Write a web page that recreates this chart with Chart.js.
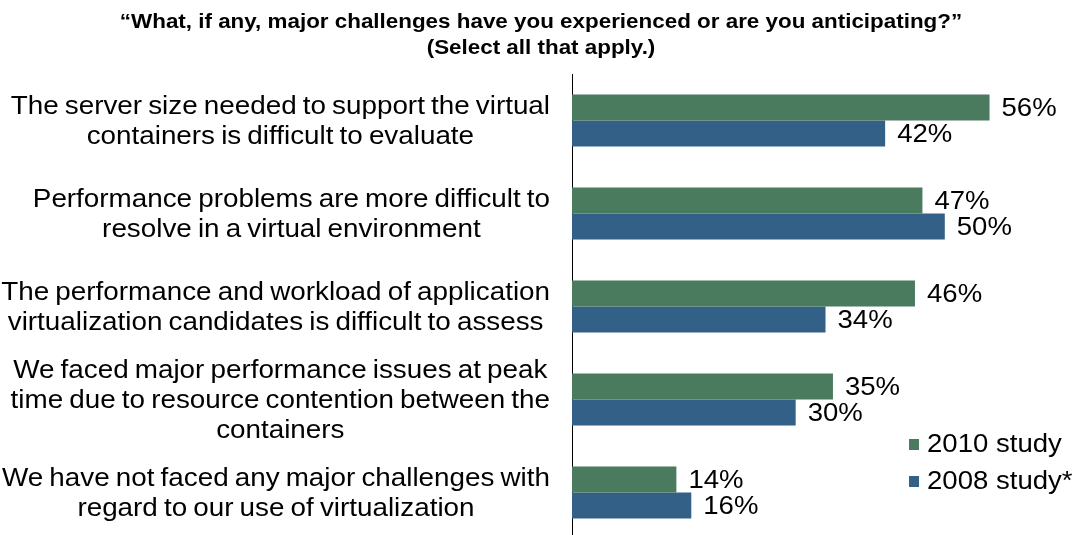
<!DOCTYPE html>
<html>
<head>
<meta charset="utf-8">
<script src="https://cdn.jsdelivr.net/npm/chart.js@4.4.1/dist/chart.umd.min.js"></script>
<style>
  html, body { margin: 0; padding: 0; background: #fff; overflow: hidden; }
</style>
</head>
<body>
<canvas id="chart" width="1079" height="540"></canvas>
<script>
// survey answers, one entry per bar group (each line of a label is its own string)
const categories = [
  ['The server size needed to support the virtual', 'containers is difficult to evaluate'],
  ['Performance problems are more difficult to', 'resolve in a virtual environment'],
  ['The performance and workload of application', 'virtualization candidates is difficult to assess'],
  ['We faced major performance issues at peak', 'time due to resource contention between the', 'containers'],
  ['We have not faced any major challenges with', 'regard to our use of virtualization']
];
const study2010 = [56, 47, 46, 35, 14];
const study2008 = [42, 50, 34, 30, 16];
const seriesNames = ['2010 study', '2008 study*'];
const titleLines = [
  '\u201cWhat, if any, major challenges have you experienced or are you anticipating?\u201d',
  '(Select all that apply.)'
];

const GREEN = '#4a7b5f';
const BLUE = '#336087';
const FONT = '"Liberation Sans", Arial, sans-serif';
const TEXT_FONT = '26px ' + FONT;
const TEXT_STRETCH = 1.06;
const LABEL_STRETCH = 1.07;

// text drawn slightly widened, like the original slide export
function wideText(ctx, text, x, y, sx) {
  ctx.save();
  ctx.translate(x, y);
  ctx.scale(sx, 1);
  ctx.fillText(text, 0, 0);
  ctx.restore();
}

const titleBlock = {
  id: 'titleBlock',
  afterDraw(chart) {
    const ctx = chart.ctx;
    ctx.save();
    ctx.font = 'bold 20px ' + FONT;
    ctx.fillStyle = '#000';
    ctx.textAlign = 'center';
    ctx.textBaseline = 'middle';
    titleLines.forEach((line, i) => wideText(ctx, line, 541, 22 + i * 26, 1.12));
    ctx.restore();
  }
};

// multi-line category text, each block centred on itself and right-aligned to the axis
const categoryLabels = {
  id: 'categoryLabels',
  afterDraw(chart) {
    const ctx = chart.ctx;
    const yScale = chart.scales.y;
    const right = chart.chartArea.left - 22;
    ctx.save();
    ctx.font = TEXT_FONT;
    ctx.wordSpacing = '-1.5px';
    ctx.fillStyle = '#000';
    ctx.textAlign = 'center';
    ctx.textBaseline = 'middle';
    chart.data.labels.forEach((lines, i) => {
      const widest = Math.max(...lines.map(l => ctx.measureText(l).width)) * LABEL_STRETCH;
      const cx = right - widest / 2;
      const cy = yScale.getPixelForTick(i);
      lines.forEach((line, j) => {
        wideText(ctx, line, cx, cy + 1 + (j - (lines.length - 1) / 2) * 30, LABEL_STRETCH);
      });
    });
    ctx.restore();
  }
};

// percentage printed just past the end of each bar
const valueLabels = {
  id: 'valueLabels',
  afterDatasetsDraw(chart) {
    const ctx = chart.ctx;
    ctx.save();
    ctx.font = TEXT_FONT;
    ctx.fillStyle = '#000';
    ctx.textAlign = 'left';
    ctx.textBaseline = 'middle';
    chart.data.datasets.forEach((ds, d) => {
      chart.getDatasetMeta(d).data.forEach((bar, i) => {
        wideText(ctx, ds.data[i] + '%', bar.x + 12, bar.y + 1, TEXT_STRETCH);
      });
    });
    ctx.restore();
  }
};

// small square legend in the lower right
const cornerLegend = {
  id: 'cornerLegend',
  afterDraw(chart) {
    const ctx = chart.ctx;
    ctx.save();
    ctx.font = TEXT_FONT;
    ctx.textAlign = 'left';
    ctx.textBaseline = 'middle';
    chart.data.datasets.forEach((ds, d) => {
      const y = 444 + d * 37;
      ctx.fillStyle = ds.backgroundColor;
      ctx.fillRect(909, y - 5, 10, 11);
      ctx.fillStyle = '#000';
      wideText(ctx, ds.label, 927, y + 1, TEXT_STRETCH);
    });
    ctx.restore();
  }
};

new Chart(document.getElementById('chart'), {
  type: 'bar',
  data: {
    labels: categories,
    datasets: [
      { label: seriesNames[0], data: study2010, backgroundColor: GREEN },
      { label: seriesNames[1], data: study2008, backgroundColor: BLUE }
    ]
  },
  options: {
    indexAxis: 'y',
    responsive: false,
    animation: false,
    layout: { padding: { top: 74, right: 0, bottom: 1, left: 0 } },
    datasets: {
      bar: { categoryPercentage: 0.56, barPercentage: 1.0, borderWidth: 0 }
    },
    scales: {
      x: { display: false, min: 0, max: 68 },
      y: {
        grid: { display: false },
        border: { display: true, color: '#000', width: 1 },
        ticks: { display: false },
        afterFit(scale) { scale.width = 572; }
      }
    },
    plugins: {
      legend: { display: false },
      tooltip: { enabled: false },
      title: { display: false }
    }
  },
  plugins: [titleBlock, categoryLabels, valueLabels, cornerLegend]
});
</script>
</body>
</html>
